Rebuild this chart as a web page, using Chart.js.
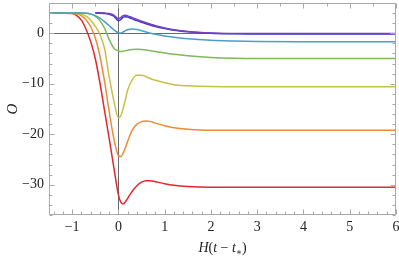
<!DOCTYPE html>
<html><head><meta charset="utf-8">
<script src="https://cdn.jsdelivr.net/npm/chart.js@4/dist/chart.umd.min.js"></script>
<style>html,body{margin:0;padding:0;background:#fff;}canvas{display:block;}</style>
</head><body>
<canvas id="c" width="399" height="256"></canvas>
<script>
const xs = [-1.5,-1.2,-1.0,-0.9,-0.8,-0.7,-0.6,-0.5,-0.4,-0.3,-0.2,-0.1,0,0.05,0.1,0.15,0.2,0.3,0.4,0.5,0.6,0.7,0.8,1.0,1.2,1.5,2.0,2.5,3.0,4.0,6.0];
const redVals    = [4.0,3.97,3.9,3.5,2.6,0.8,-1.6,-5.0,-9.8,-15.3,-20.8,-26.5,-32.0,-33.4,-33.8,-33.4,-32.7,-31.3,-30.2,-29.5,-29.2,-29.2,-29.4,-29.8,-30.1,-30.35,-30.5,-30.5,-30.5,-30.5,-30.5];
const orangeVals = [4.0,4.0,3.95,3.85,3.5,2.7,1.3,-0.9,-4.5,-9.5,-15.5,-20.8,-24.2,-24.4,-23.8,-22.7,-21.4,-19.2,-18.0,-17.5,-17.4,-17.5,-17.8,-18.3,-18.7,-19.0,-19.2,-19.2,-19.2,-19.2,-19.2];
const yellowVals = [4.0,4.0,4.0,3.95,3.8,3.4,2.6,1.4,-0.2,-3.0,-8.6,-13.3,-16.7,-16.4,-15.0,-13.2,-11.3,-9.2,-8.3,-8.3,-8.6,-9.0,-9.3,-9.8,-10.2,-10.4,-10.55,-10.6,-10.6,-10.6,-10.6];
const greenVals  = [4.0,4.0,4.0,4.0,4.0,3.98,3.85,3.4,2.5,1.0,-1.2,-2.9,-3.5,-3.6,-3.55,-3.45,-3.35,-3.2,-3.15,-3.2,-3.3,-3.45,-3.6,-3.9,-4.15,-4.45,-4.8,-4.95,-5.0,-5.0,-5.0];
const cyanVals   = [4.0,4.0,4.0,4.0,4.0,3.95,3.8,3.5,3.0,2.3,1.5,0.7,0.1,0.05,0.25,0.5,0.7,0.85,0.75,0.5,0.25,0.0,-0.2,-0.55,-0.8,-1.1,-1.4,-1.55,-1.65,-1.7,-1.7];
const blueVals   = [null,null,null,null,null,null,null,3.95,3.95,3.9,3.75,3.4,2.5,2.7,3.2,3.3,3.2,2.85,2.5,2.2,1.9,1.6,1.35,0.95,0.6,0.3,0.0,-0.1,-0.15,-0.15,-0.15];
const purpleVals = [null,null,null,null,null,null,null,4.05,4.05,4.0,3.9,3.6,2.9,3.1,3.5,3.55,3.45,3.1,2.75,2.4,2.1,1.8,1.5,1.05,0.7,0.35,0.05,-0.05,-0.05,-0.05,-0.05];
const xTicks = [-1,0,1,2,3,4,5,6];
const yTicks = [-30,-20,-10,0];

const series = [
  {vals: purpleVals, color: '#7a3fb4'},
  {vals: blueVals,   color: '#3c3cd2'},
  {vals: cyanVals,   color: '#4a9fc8'},
  {vals: greenVals,  color: '#7cba5a'},
  {vals: yellowVals, color: '#c9c044'},
  {vals: orangeVals, color: '#ee8c36'},
  {vals: redVals,    color: '#e3272b'}
];

const fmt = v => (v < 0 ? '\u2212' + Math.abs(v) : String(v));
const serif = "'Liberation Serif', 'DejaVu Serif', serif";

const framePlugin = {
  id: 'frame',
  beforeDatasetsDraw(chart) {
    const {ctx, chartArea: a, scales: {x, y}} = chart;
    ctx.save();
    ctx.strokeStyle = '#6a6a6a';
    ctx.lineWidth = 1;
    const x0 = Math.round(x.getPixelForValue(0)) + 0.5;
    const y0 = Math.round(y.getPixelForValue(0)) + 0.5;
    ctx.beginPath();
    ctx.moveTo(x0, a.top); ctx.lineTo(x0, a.bottom);
    ctx.moveTo(a.left, y0); ctx.lineTo(a.right, y0);
    ctx.stroke();
    ctx.restore();
  },
  afterDatasetsDraw(chart) {
    const {ctx, chartArea: a, scales: {x, y}} = chart;
    ctx.save();
    ctx.strokeStyle = '#a8a8a8';
    ctx.lineWidth = 1;
    const L = Math.round(a.left) + 0.5, R = Math.round(a.right) - 0.5;
    const T = Math.round(a.top) + 0.5, B = Math.round(a.bottom) - 0.5;
    ctx.beginPath();
    ctx.rect(L, T, R - L, B - T);
    for (let i = -7; i <= 30; i++) {
      const v = i / 5;
      const px = Math.round(x.getPixelForValue(v)) + 0.5;
      const len = (i % 5 === 0) ? 5 : 3;
      ctx.moveTo(px, B); ctx.lineTo(px, B - len);
    }
    for (let i = -3; i <= 12; i++) {
      const v = i / 2;
      const px = Math.round(x.getPixelForValue(v)) + 0.5;
      const len = (i % 2 === 0) ? 5 : 3;
      ctx.moveTo(px, T); ctx.lineTo(px, T + len);
    }
    for (let v = -36; v <= 6; v += 2) {
      const py = Math.round(y.getPixelForValue(v)) + 0.5;
      const len = (v % 10 === 0) ? 5 : 3;
      ctx.moveTo(L, py); ctx.lineTo(L + len, py);
      ctx.moveTo(R, py); ctx.lineTo(R - len, py);
    }
    ctx.stroke();
    ctx.restore();
  },
  afterDraw(chart) {
    const {ctx, chartArea: a} = chart;
    ctx.save();
    ctx.fillStyle = '#222';
    ctx.textBaseline = 'alphabetic';
    const it = "italic 14px " + serif, rm = "14px " + serif, sm = "9px " + serif;
    const parts = [
      {t: 'H', f: it, dy: 0}, {t: '(', f: rm, dy: 0}, {t: 't', f: it, dy: 0},
      {t: ' \u2212 ', f: rm, dy: 0}, {t: 't', f: it, dy: 0}, {t: '\u2217', f: sm, dy: 3},
      {t: ')', f: rm, dy: 0}
    ];
    let w = 0;
    parts.forEach(p => { ctx.font = p.f; p.w = ctx.measureText(p.t).width; w += p.w; });
    let cx = (a.left + a.right) / 2 - w / 2;
    const by = 252;
    parts.forEach(p => { ctx.font = p.f; ctx.fillText(p.t, cx, by + p.dy); cx += p.w; });
    ctx.translate(17, (a.top + a.bottom) / 2);
    ctx.rotate(-Math.PI / 2);
    ctx.font = "italic 15px " + serif;
    ctx.textAlign = 'center';
    ctx.fillText('O', 0, 0);
    ctx.restore();
  }
};

const zeroPad = s => { s.paddingLeft = 0; s.paddingRight = 0; s.paddingTop = 0; s.paddingBottom = 0; };

new Chart(document.getElementById('c'), {
  type: 'line',
  data: {
    datasets: series.map(s => ({
      data: xs.map((x, i) => ({x: x, y: s.vals[i]})),
      borderColor: s.color,
      borderWidth: 1.5,
      pointRadius: 0,
      fill: false,
      cubicInterpolationMode: 'monotone',
      spanGaps: false
    }))
  },
  options: {
    responsive: false,
    devicePixelRatio: 1,
    animation: false,
    events: [],
    layout: {padding: {left: 0, right: 3, top: 3, bottom: 0}},
    plugins: {legend: {display: false}, tooltip: {enabled: false}},
    scales: {
      x: {
        type: 'linear', min: -1.5, max: 6,
        grid: {display: false, drawTicks: false}, border: {display: false},
        afterBuildTicks: s => { s.ticks = xTicks.map(v => ({value: v})); },
        afterFit: s => { s.height = 41; zeroPad(s); },
        ticks: {callback: v => fmt(v), font: {family: serif, size: 14}, color: '#222', padding: 4, maxRotation: 0, autoSkip: false}
      },
      y: {
        type: 'linear', min: -36, max: 6,
        grid: {display: false, drawTicks: false}, border: {display: false},
        afterBuildTicks: s => { s.ticks = yTicks.map(v => ({value: v})); },
        afterFit: s => { s.width = 49; zeroPad(s); },
        ticks: {callback: v => fmt(v), font: {family: serif, size: 14}, color: '#222', padding: 5}
      }
    }
  },
  plugins: [framePlugin]
});
</script>
</body></html>
